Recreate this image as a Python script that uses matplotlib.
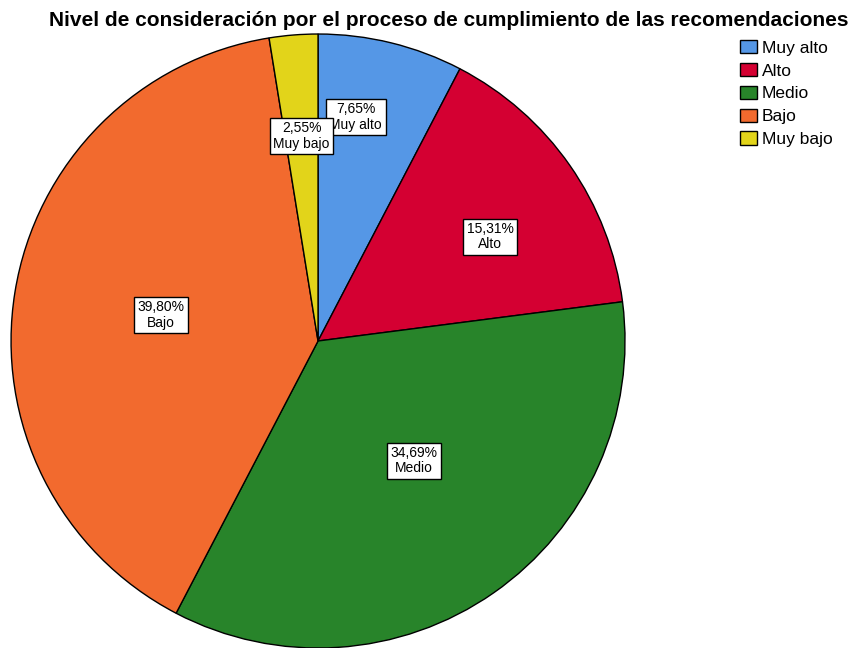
import numpy as np
import matplotlib.pyplot as plt

plt.rcParams['font.family'] = ['Liberation Sans', 'DejaVu Sans']

labels = ['Muy alto', 'Alto', 'Medio', 'Bajo', 'Muy bajo']
values = [7.65, 15.31, 34.69, 39.80, 2.55]
colors = ['#5597E6', '#D40032', '#28842A', '#F26A2E', '#E2D41A']
pct_text = ['7,65%', '15,31%', '34,69%', '39,80%', '2,55%']
# where each label box sits: fraction of radius, and turn from the wedge middle
label_r = [0.74, 0.655, 0.50, 0.52, 0.67]
label_turn = [4.2, -3.7, 3.8, -0.2, 0.0]

fig = plt.figure(figsize=(8.62, 6.48), dpi=100)
ax = fig.add_axes([0.0128, 0.0, 0.7123, 0.9475])

wedges, _ = ax.pie(values, colors=colors, startangle=90, counterclock=False,
                   radius=1, wedgeprops=dict(edgecolor='black', linewidth=1))
ax.set_xlim(-1, 1)
ax.set_ylim(-1, 1)
ax.set_aspect('equal')
ax.axis('off')

for w, txt, lab, r, t in zip(wedges, pct_text, labels, label_r, label_turn):
    mid = np.deg2rad((w.theta1 + w.theta2) / 2 + t)
    ax.text(r * np.cos(mid), r * np.sin(mid), txt + '\n' + lab,
            ha='center', va='center', fontsize=10, linespacing=1.1,
            bbox=dict(facecolor='white', edgecolor='black', linewidth=1,
                      boxstyle='square,pad=0.25'))

fig.text(0.521, 0.960, 'Nivel de consideración por el proceso de cumplimiento de las recomendaciones',
         ha='center', va='baseline', fontsize=15, fontweight='bold')

fig.legend(wedges, labels, loc='upper left', bbox_to_anchor=(0.8585, 0.938),
           frameon=False, fontsize=12.5, handlelength=1.0, handleheight=0.8,
           handletextpad=0.25, labelspacing=0.41, borderpad=0, borderaxespad=0)

fig.savefig('out.png', dpi=100)
